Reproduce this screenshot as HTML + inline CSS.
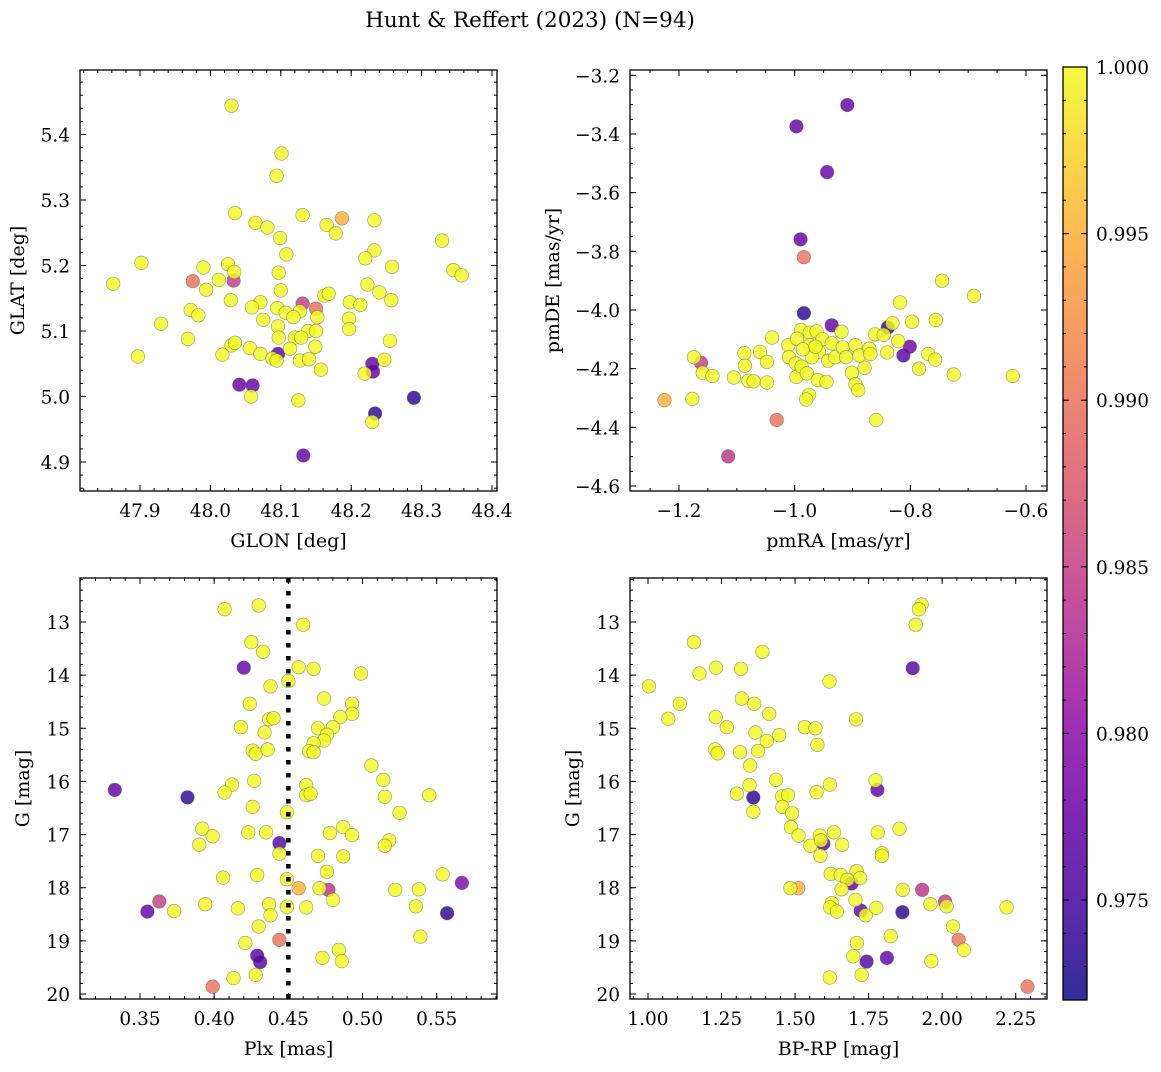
<!DOCTYPE html>
<html><head><meta charset="utf-8"><style>
body{margin:0;background:#fff;}
svg text{font-family:"DejaVu Serif","Liberation Serif",serif;fill:#000;}
</style></head><body>
<svg id="fig" xmlns="http://www.w3.org/2000/svg" width="1161" height="1067" viewBox="0 0 1161 1067">
<defs><linearGradient id="plasmaGrad" x1="0" y1="1" x2="0" y2="0"></linearGradient></defs>
<text x="530" y="27" font-size="21.5" text-anchor="middle">Hunt &amp; Reffert (2023) (N=94)</text>
</svg>
<script>
// ---------- Panel 1 data ----------
const p1Glon=[48.030,48.101,48.094,48.035,48.131,48.187,48.233,48.064,48.081,48.165,48.178,48.099,48.329,48.108,48.233,48.220,47.902,47.990,48.025,48.258,48.034,48.345,48.357,47.862,47.975,48.012,48.033,48.097,48.223,47.994,48.100,48.240,48.162,48.168,48.029,48.257,48.071,48.059,48.131,48.150,48.198,48.213,47.972,47.983,48.095,48.107,48.127,48.118,48.152,48.075,47.930,48.197,48.096,48.139,48.150,48.197,47.968,48.097,48.120,48.129,48.255,48.030,48.035,48.056,48.113,48.149,47.897,48.017,48.071,48.096,48.088,48.094,48.127,48.140,48.247,48.230,48.231,48.219,48.157,48.041,48.060,48.058,48.125,48.289,48.234,48.230,48.132];
const p1Glat=[5.444,5.371,5.337,5.280,5.277,5.272,5.269,5.265,5.258,5.262,5.249,5.242,5.238,5.217,5.223,5.211,5.204,5.197,5.202,5.198,5.190,5.193,5.185,5.172,5.176,5.178,5.177,5.189,5.171,5.163,5.162,5.159,5.154,5.157,5.147,5.147,5.144,5.136,5.142,5.134,5.144,5.140,5.132,5.124,5.135,5.128,5.130,5.121,5.121,5.117,5.111,5.119,5.107,5.100,5.100,5.103,5.088,5.090,5.090,5.090,5.085,5.078,5.082,5.074,5.073,5.076,5.061,5.064,5.065,5.065,5.058,5.055,5.055,5.057,5.056,5.050,5.038,5.035,5.041,5.018,5.017,5.000,4.994,4.998,4.974,4.961,4.910];
const p1Prob=[1,1,1,1,1,.995,1,1,1,1,
1,1,1,1,1,1,1,1,1,1,
1,1,1,1,.99,1,.985,1,1,1,
1,1,1,1,1,1,1,1,.985,.99,
1,1,1,1,1,1,1,1,1,1,
1,1,1,1,1,1,1,1,1,1,
1,1,1,1,1,1,1,1,1,.977,
1,1,1,1,1,.977,.977,1,1,.977,
.977,1,1,.9735,.9735,1,.977];
// ---------- Panel 2 data ----------
const p2Pmra=[-0.909,-0.997,-0.944,-0.990,-0.984,-0.745,-0.690,-0.818,-0.984,-0.797,-0.756,-0.936,-0.839,-0.831,-1.039,-0.919,-0.861,-0.846,-0.821,-0.801,-0.812,-0.840,-0.769,-0.757,-0.785,-0.725,-0.623,-1.174,-1.162,-1.159,-1.142,-1.225,-1.177,-1.105,-1.087,-1.086,-1.080,-1.071,-1.060,-1.048,-1.048,-1.031,-1.115,-0.859,-1.011,-1.010,-0.998,-0.997,-0.989,-0.996,-0.974,-0.962,-0.974,-0.958,-0.970,-0.988,-0.979,-0.952,-0.936,-0.942,-0.930,-0.917,-0.911,-0.895,-0.888,-0.871,-0.869,-0.879,-0.901,-0.895,-0.890,-0.960,-0.945,-0.975,-0.980,-0.986,-0.964];
const p2Pmde=[-3.301,-3.374,-3.530,-3.759,-3.820,-3.900,-3.952,-3.974,-4.011,-4.040,-4.034,-4.052,-4.060,-4.045,-4.094,-4.074,-4.083,-4.085,-4.106,-4.125,-4.155,-4.145,-4.150,-4.169,-4.200,-4.220,-4.225,-4.161,-4.180,-4.214,-4.225,-4.307,-4.303,-4.230,-4.147,-4.190,-4.241,-4.243,-4.143,-4.177,-4.247,-4.375,-4.499,-4.375,-4.120,-4.161,-4.182,-4.228,-4.068,-4.098,-4.077,-4.073,-4.120,-4.143,-4.161,-4.193,-4.216,-4.100,-4.114,-4.173,-4.161,-4.127,-4.161,-4.120,-4.155,-4.132,-4.150,-4.197,-4.214,-4.253,-4.273,-4.239,-4.245,-4.289,-4.305,-4.134,-4.125];
const p2Prob=[.977,.977,.977,.977,.99,1,1,1,.9735,1,
1,.977,.9735,1,1,1,1,1,1,.978,
.976,1,1,1,1,1,1,1,.985,1,
1,.995,1,1,1,1,1,1,1,1,
1,.99,.984,1,1,1,1,1,1,1,
1,1,1,1,1,1,1,1,1,1,
1,1,1,1,1,1,1,1,1,1,
1,1,1,1,1,1,1];
// ---------- Panel 3 data ----------
const p3Plx=[0.407,0.430,0.460,0.425,0.433,0.420,0.457,0.467,0.499,0.450,0.438,0.424,0.474,0.493,0.493,0.485,0.437,0.440,0.418,0.470,0.480,0.476,0.474,0.434,0.426,0.428,0.436,0.467,0.464,0.467,0.506,0.514,0.515,0.545,0.525,0.333,0.382,0.412,0.407,0.427,0.462,0.462,0.465,0.426,0.449,0.392,0.399,0.390,0.423,0.435,0.444,0.444,0.478,0.487,0.493,0.518,0.515,0.470,0.487,0.476,0.406,0.429,0.449,0.457,0.471,0.477,0.480,0.522,0.538,0.554,0.567,0.536,0.557,0.539,0.363,0.355,0.373,0.394,0.416,0.437,0.438,0.449,0.462,0.430,0.421,0.444,0.429,0.431,0.484,0.473,0.486,0.413,0.428,0.399];
const p3G=[12.76,12.69,13.05,13.38,13.56,13.86,13.85,13.88,13.97,14.11,14.21,14.54,14.44,14.54,14.73,14.79,14.83,14.81,14.98,15.00,14.98,15.12,15.23,15.08,15.42,15.48,15.40,15.28,15.43,15.45,15.70,15.97,16.29,16.26,16.59,16.16,16.30,16.06,16.21,15.99,16.07,16.26,16.23,16.48,16.58,16.89,17.03,17.19,16.96,16.96,17.16,17.36,16.97,16.86,17.01,17.11,17.21,17.40,17.41,17.70,17.81,17.76,17.84,18.01,18.01,18.04,18.23,18.04,18.03,17.75,17.91,18.35,18.48,18.92,18.26,18.45,18.44,18.31,18.39,18.31,18.52,18.36,18.37,18.73,19.04,18.98,19.28,19.40,19.17,19.32,19.38,19.70,19.64,19.86];
const p3Prob=[1,1,1,1,1,.977,1,1,1,1,
1,1,1,1,1,1,1,1,1,1,
1,1,1,1,1,1,1,1,1,1,
1,1,1,1,1,.977,.9735,1,1,1,
1,1,1,1,1,1,1,1,1,1,
.976,1,1,1,1,1,1,1,1,1,
1,1,1,.995,1,.984,1,1,1,1,
.979,1,.9735,1,.985,.977,1,1,1,1,
1,1,1,1,1,.99,.976,.976,1,1,
1,1,1,.99];
const p3Cut=[0.45];
// ---------- Panel 4 data ----------
const p4Bprp=[1.930,1.921,1.910,1.900,1.156,1.389,1.231,1.175,1.316,1.003,1.617,1.108,1.319,1.361,1.069,1.230,1.412,1.268,1.707,1.365,1.404,1.446,1.533,1.569,1.576,1.228,1.237,1.313,1.374,1.347,1.435,1.618,1.573,1.773,1.780,1.345,1.302,1.358,1.358,1.456,1.476,1.457,1.490,1.486,1.512,1.552,1.584,1.596,1.588,1.586,1.632,1.660,1.781,1.855,1.795,1.795,1.621,1.655,1.709,1.721,1.692,1.678,1.658,1.484,1.511,1.705,1.625,1.619,1.642,1.723,1.740,1.776,1.865,1.866,1.932,1.960,2.010,2.015,2.219,2.037,2.056,2.074,1.825,1.710,1.698,1.743,1.812,1.963,1.618,1.726,2.290];
const p4G=[12.67,12.76,13.05,13.87,13.38,13.56,13.86,13.97,13.88,14.21,14.12,14.54,14.44,14.54,14.82,14.79,14.73,14.98,14.83,15.08,15.24,15.13,14.98,15.00,15.31,15.40,15.47,15.45,15.43,15.70,15.97,16.06,16.20,15.98,16.16,16.07,16.23,16.30,16.57,16.28,16.26,16.48,16.60,16.86,17.02,17.21,17.02,17.17,17.11,17.40,16.96,17.19,16.96,16.89,17.35,17.40,17.74,17.76,17.69,17.82,17.92,17.85,18.03,18.01,18.01,18.23,18.29,18.37,18.45,18.43,18.52,18.38,18.46,18.04,18.04,18.31,18.26,18.35,18.37,18.73,18.98,19.17,18.91,19.04,19.29,19.39,19.32,19.38,19.69,19.64,19.86];
const p4Prob=[1,1,1,.976,1,1,1,1,1,1,
1,1,1,1,1,1,1,1,1,1,
1,1,1,1,1,1,1,1,1,1,
1,1,1,1,.977,1,1,.9735,1,1,
1,1,1,1,1,1,1,.977,1,1,
1,1,1,1,1,1,1,1,1,1,
.977,1,1,1,.995,1,1,1,1,.977,
1,1,.9735,1,.984,1,.985,1,1,1,
.99,1,1,1,1,.976,.977,1,1,1,
.99];
// ---------- Ticks ----------
const p1XTicks=[47.9,48.0,48.1,48.2,48.3,48.4];
const p1YTicks=[4.9,5.0,5.1,5.2,5.3,5.4];
const p2XTicks=[-1.2,-1.0,-0.8,-0.6];
const p2YTicks=[-4.6,-4.4,-4.2,-4.0,-3.8,-3.6,-3.4,-3.2];
const p3XTicks=[0.35,0.40,0.45,0.50,0.55];
const gTicks=[13,14,15,16,17,18,19,20];
const p4XTicks=[1.00,1.25,1.50,1.75,2.00,2.25];
const cbTicks=[0.975,0.980,0.985,0.990,0.995,1.000];

const NS="http://www.w3.org/2000/svg";
const svg=document.getElementById('fig');
const TICKFS=18.5, LABFS=19;
function mk(tag,attrs,parent){const e=document.createElementNS(NS,tag);for(const k in attrs)e.setAttribute(k,attrs[k]);(parent||svg).appendChild(e);return e;}
const plasmaStops=[[0,'#0d0887'],[0.1,'#41049d'],[0.2,'#6a00a8'],[0.3,'#8f0da4'],[0.4,'#b12a90'],[0.5,'#cc4778'],[0.6,'#e16462'],[0.7,'#f2844b'],[0.8,'#fca636'],[0.9,'#fcce25'],[1,'#f0f921']];
function hex(h){return [parseInt(h.substr(1,2),16),parseInt(h.substr(3,2),16),parseInt(h.substr(5,2),16)];}
function plasma(t){t=Math.max(0,Math.min(1,t));for(let i=1;i<plasmaStops.length;i++){if(t<=plasmaStops[i][0]){const a=plasmaStops[i-1],b=plasmaStops[i];const f=(t-a[0])/(b[0]-a[0]);const ca=hex(a[1]),cb=hex(b[1]);return 'rgb('+ca.map((v,j)=>Math.round(v+(cb[j]-v)*f)).join(',')+')';}}return plasmaStops[10][1];}
const VMIN=0.972,VMAX=1.0;
function lin(d0,p0,d1,p1){return v=>p0+(v-d0)*(p1-p0)/(d1-d0);}
function fmt(v,dec){const s=Math.abs(v).toFixed(dec);return (v<0?'\u2212':'')+s;}

function panel(cfg){
  const g=mk('g',{});
  
  
  const {x0,x1,y0,y1,sx,sy}=cfg;
  const clipId=cfg.name+'-clip';
  const cp=mk('clipPath',{id:clipId},g);mk('rect',{x:x0,y:y0,width:x1-x0,height:y1-y0},cp);
  const pts=mk('g',{'clip-path':'url(#'+clipId+')'},g);
  
  
  const idx=cfg.xs.map((_,i)=>i).sort((a,b)=>cfg.ps[a]-cfg.ps[b]);
  idx.forEach(i=>{
    const c=mk('circle',{cx:sx(cfg.xs[i]).toFixed(1),cy:sy(cfg.ys[i]).toFixed(1),r:6.8,fill:plasma((cfg.ps[i]-VMIN)/(VMAX-VMIN)),'fill-opacity':0.82,stroke:'#555','stroke-opacity':0.6,'stroke-width':0.6},pts);
    
    
  });
  if(cfg.vline){cfg.vline.forEach(v=>{const l=mk('line',{x1:sx(v),x2:sx(v),y1:y0,y2:y1,stroke:'#000','stroke-width':4.5,'stroke-dasharray':'4.5 8.5'},g);
    
    });}
  const fr=mk('rect',{x:x0,y:y0,width:x1-x0,height:y1-y0,fill:'none',stroke:'#000','stroke-width':1.3},g);
  
  
  const tg=mk('g',{stroke:'#000','stroke-width':1},g);
  const xmin=Math.min(cfg.xd[0],cfg.xd[1]),xmax=Math.max(cfg.xd[0],cfg.xd[1]);
  for(let k=Math.ceil(xmin/cfg.xm-1e-6);k*cfg.xm<=xmax+1e-9;k++){const px=sx(k*cfg.xm);if(px<x0||px>x1)continue;mk('line',{x1:px,x2:px,y1:y1,y2:y1-3},tg);mk('line',{x1:px,x2:px,y1:y0,y2:y0+3},tg);}
  const ymin=Math.min(cfg.yd[0],cfg.yd[1]),ymax=Math.max(cfg.yd[0],cfg.yd[1]);
  for(let k=Math.ceil(ymin/cfg.ym-1e-6);k*cfg.ym<=ymax+1e-9;k++){const py=sy(k*cfg.ym);if(py<y0||py>y1)continue;mk('line',{x1:x0,x2:x0+3,y1:py,y2:py},tg);mk('line',{x1:x1,x2:x1-3,y1:py,y2:py},tg);}
  cfg.xt.forEach(v=>{const px=sx(v);mk('line',{x1:px,x2:px,y1:y1,y2:y1-6},tg);mk('line',{x1:px,x2:px,y1:y0,y2:y0+6},tg);
    const t=mk('text',{x:px,y:y1+26,'font-size':TICKFS,'text-anchor':'middle'},g);t.textContent=fmt(v,cfg.xdec);
    
    });
  cfg.yt.forEach(v=>{const py=sy(v);if(py<y0-2||py>y1+2)return;mk('line',{x1:x0,x2:x0+6,y1:py,y2:py},tg);mk('line',{x1:x1,x2:x1-6,y1:py,y2:py},tg);
    const t=mk('text',{x:x0-10,y:py+7,'font-size':TICKFS,'text-anchor':'end'},g);t.textContent=fmt(v,cfg.ydec);
    
    });
  const xt=mk('text',{x:(x0+x1)/2,y:y1+56,'font-size':LABFS,'text-anchor':'middle'},g);xt.textContent=cfg.xlabel;
  
  
  const yt=mk('text',{x:cfg.ylx,y:(y0+y1)/2,'font-size':LABFS,'text-anchor':'middle',transform:'rotate(-90 '+cfg.ylx+' '+(y0+y1)/2+')'},g);yt.textContent=cfg.ylabel;
  
  
}
const gy=lin(13,622,20,994);
panel({name:'glon-glat-panel',x0:80,x1:497,y0:70,y1:491,sx:lin(47.9,140,48.4,492),sy:lin(5.4,134.5,4.9,462),xd:[47.81,48.41],yd:[4.85,5.5],xm:0.02,ym:0.02,xt:p1XTicks,yt:p1YTicks,xdec:1,ydec:1,xs:p1Glon,ys:p1Glat,ps:p1Prob,xlabel:'GLON [deg]',ylabel:'GLAT [deg]',ylx:24});
panel({name:'proper-motion-panel',x0:630,x1:1047,y0:70,y1:491,sx:lin(-1.2,679,-0.6,1026),sy:lin(-3.4,134,-4.6,486),xd:[-1.3,-0.5],yd:[-4.7,-3.1],xm:0.05,ym:0.05,xt:p2XTicks,yt:p2YTicks,xdec:1,ydec:1,xs:p2Pmra,ys:p2Pmde,ps:p2Prob,xlabel:'pmRA [mas/yr]',ylabel:'pmDE [mas/yr]',ylx:559});
panel({name:'plx-g-panel',x0:80,x1:497,y0:578,y1:999,sx:lin(0.35,140,0.55,436.7),sy:gy,xd:[0.3,0.6],yd:[12,21],xm:0.01,ym:0.2,xt:p3XTicks,yt:gTicks,xdec:2,ydec:0,xs:p3Plx,ys:p3G,ps:p3Prob,vline:p3Cut,xlabel:'Plx [mas]',ylabel:'G [mag]',ylx:29});
panel({name:'cmd-panel',x0:630,x1:1047,y0:578,y1:999,sx:lin(1.0,648,2.25,1015.7),sy:gy,xd:[0.9,2.4],yd:[12,21],xm:0.05,ym:0.2,xt:p4XTicks,yt:gTicks,xdec:2,ydec:0,xs:p4Bprp,ys:p4G,ps:p4Prob,xlabel:'BP-RP [mag]',ylabel:'G [mag]',ylx:579});
// colorbar
const grad=document.getElementById('plasmaGrad');
plasmaStops.forEach(s=>mk('stop',{offset:s[0],'stop-color':s[1],'stop-opacity':0.85},grad));
const cb=mk('g',{});


const cby=lin(1.0,67,0.975,900);
mk('rect',{x:1063,y:67,width:24,height:933,fill:'url(#plasmaGrad)',stroke:'#000','stroke-width':1.3},cb);
for(let k=973;k<=1000;k++){const py=cby(k/1000);mk('line',{x1:1087,x2:1084,y1:py,y2:py,stroke:'#000'},cb);mk('line',{x1:1063,x2:1066,y1:py,y2:py,stroke:'#000'},cb);}
cbTicks.forEach(v=>{const py=cby(v);mk('line',{x1:1087,x2:1081,y1:py,y2:py,stroke:'#000'},cb);mk('line',{x1:1063,x2:1069,y1:py,y2:py,stroke:'#000'},cb);
  const t=mk('text',{x:1096,y:py+7,'font-size':TICKFS},cb);t.textContent=v.toFixed(3);
  
  });
</script>
</body></html>
